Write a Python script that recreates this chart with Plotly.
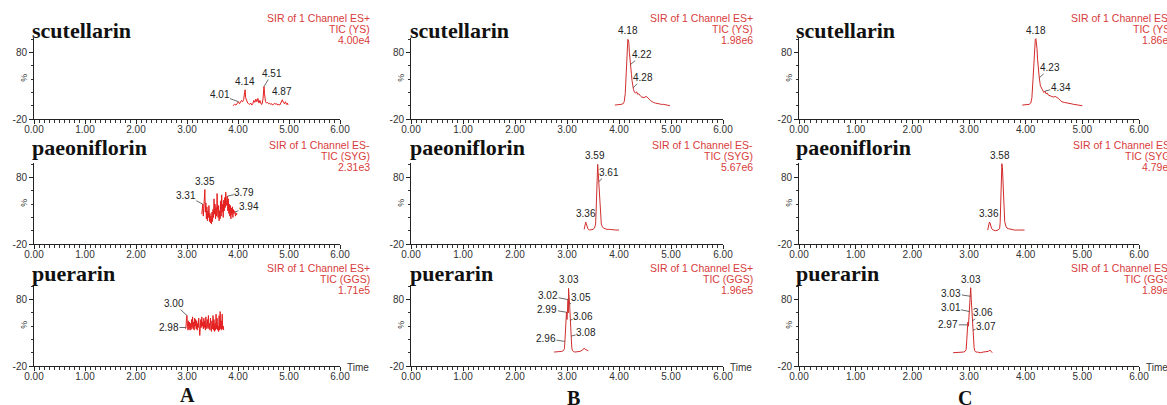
import plotly.graph_objects as go

# ---------------- data ----------------
COLUMNS = ["A", "B", "C"]
COMPOUNDS = ["scutellarin", "paeoniflorin", "puerarin"]
MODES = ["SIR of 1 Channel ES+", "SIR of 1 Channel ES-", "SIR of 1 Channel ES+"]
CHANNELS = ["TIC (YS)", "TIC (SYG)", "TIC (GGS)"]
SCALE_A = ["4.00e4", "2.31e3", "1.71e5"]
SCALE_B = ["1.98e6", "5.67e6", "1.96e5"]
SCALE_C = ["1.86e6", "4.79e6", "1.89e5"]
X_TICKS = [0, 1, 2, 3, 4, 5, 6]
X_TICK_TEXT = ["0.00", "1.00", "2.00", "3.00", "4.00", "5.00", "6.00"]
Y_TICKS = [-20, 80]
Y_TICK_TEXT = ["-20", "80"]

# Column A
A1_TIME = [3.90, 3.93, 3.96, 3.99, 4.01, 4.03, 4.05, 4.07, 4.09, 4.11, 4.13, 4.14, 4.15,
           4.17, 4.19, 4.21, 4.23, 4.25, 4.27, 4.29, 4.31, 4.33, 4.35, 4.37, 4.39, 4.41,
           4.43, 4.45, 4.47, 4.49, 4.51, 4.52, 4.54, 4.56, 4.58, 4.60, 4.62, 4.64, 4.66,
           4.68, 4.70, 4.72, 4.74, 4.76, 4.78, 4.80, 4.82, 4.84, 4.86, 4.87, 4.89, 4.91,
           4.93, 4.95, 4.97, 4.98]
A1_INT = [0, 2, 1, 4, 6, 3, 5, 8, 6, 9, 20, 24, 12,
          6, 4, 3, 2, 4, 1, 3, 8, 5, 10, 6, 11, 4,
          8, 3, 2, 10, 29, 18, 6, 4, 5, 3, 4, 2, 3,
          1, 2, 4, 2, 3, 1, 2, 1, 4, 8, 9, 5, 3,
          6, 2, 4, 1]

A2_TIME = [3.29, 3.30, 3.31, 3.32, 3.33, 3.34, 3.35, 3.36, 3.37, 3.38,
           3.39, 3.40, 3.41, 3.42, 3.43, 3.44, 3.45, 3.46, 3.47, 3.48,
           3.49, 3.50, 3.51, 3.52, 3.53, 3.54, 3.55, 3.56, 3.57, 3.58,
           3.59, 3.60, 3.61, 3.62, 3.63, 3.64, 3.65, 3.66, 3.67, 3.68,
           3.69, 3.70, 3.71, 3.72, 3.73, 3.74, 3.75, 3.76, 3.77, 3.78,
           3.79, 3.80, 3.81, 3.82, 3.83, 3.84, 3.85, 3.86, 3.87, 3.88,
           3.89, 3.90, 3.91, 3.92, 3.93, 3.94, 3.95, 3.96, 3.97, 3.98]
A2_INT = [25, 30, 40, 22, 35, 55, 62, 28, 42, 18,
          36, 15, 30, 20, 38, 14, 26, 12, 22, 10,
          28, 14, 32, 20, 48, 25, 40, 18, 35, 22,
          56, 30, 20, 38, 15, 30, 18, 45, 22, 54,
          28, 40, 20, 46, 30, 50, 35, 58, 38, 46,
          52, 30, 48, 26, 40, 22, 38, 18, 34, 24,
          36, 20, 32, 26, 30, 28, 22, 27, 24, 26]

A3_TIME = [2.97, 2.98, 2.99, 3.00, 3.01, 3.02, 3.03, 3.04, 3.05, 3.06,
           3.07, 3.08, 3.09, 3.10, 3.11, 3.12, 3.13, 3.14, 3.15, 3.16,
           3.17, 3.18, 3.19, 3.20, 3.21, 3.22, 3.23, 3.24, 3.25, 3.26,
           3.27, 3.28, 3.29, 3.30, 3.31, 3.32, 3.33, 3.34, 3.35, 3.36,
           3.37, 3.38, 3.39, 3.40, 3.41, 3.42, 3.43, 3.44, 3.45, 3.46,
           3.47, 3.48, 3.49, 3.50, 3.51, 3.52, 3.53, 3.54, 3.55, 3.56,
           3.57, 3.58, 3.59, 3.60, 3.61, 3.62, 3.63, 3.64, 3.65, 3.66,
           3.67, 3.68, 3.69, 3.70, 3.71, 3.72]
A3_INT = [36, 38, 52, 56, 40, 34, 48, 36, 46, 34,
          44, 35, 50, 38, 54, 36, 46, 34, 52, 40,
          50, 36, 48, 34, 44, 38, 52, 34, 26, 36,
          50, 38, 54, 40, 46, 36, 52, 38, 48, 34,
          54, 42, 36, 50, 38, 56, 36, 44, 34, 52,
          40, 32, 48, 36, 56, 34, 50, 32, 44, 34,
          58, 36, 52, 34, 40, 32, 56, 34, 62, 36,
          48, 34, 58, 36, 40, 34]

# Column B
B1_TIME = [3.92, 3.96, 4.00, 4.04, 4.08, 4.10, 4.12, 4.14, 4.16, 4.17, 4.18, 4.19, 4.20,
           4.21, 4.22, 4.23, 4.24, 4.25, 4.26, 4.27, 4.28, 4.30, 4.32, 4.34, 4.36, 4.38,
           4.40, 4.42, 4.44, 4.46, 4.48, 4.50, 4.52, 4.54, 4.56, 4.58, 4.60, 4.63, 4.66,
           4.70, 4.74, 4.78, 4.82, 4.86, 4.90, 4.94, 4.98]
B1_INT = [1, 1, 2, 2, 3, 6, 18, 50, 92, 100, 99, 94, 80,
          68, 62, 56, 47, 38, 31, 27, 24, 20, 19, 21, 17, 18,
          15, 14, 13, 12, 12, 13, 14, 13, 12, 10, 8, 6, 5,
          4, 3, 3, 2, 2, 1, 1, 0]

B2_TIME = [3.33, 3.34, 3.35, 3.36, 3.37, 3.38, 3.40, 3.43, 3.46, 3.50, 3.53, 3.55, 3.56,
           3.57, 3.58, 3.59, 3.60, 3.61, 3.62, 3.63, 3.64, 3.66, 3.68, 3.70, 3.73, 3.77,
           3.82, 3.88, 3.94, 4.00]
B2_INT = [2, 6, 11, 13, 11, 7, 3, 1, 1, 2, 4, 10, 30,
          70, 96, 100, 88, 74, 60, 40, 24, 10, 6, 4, 3, 2,
          2, 1, 1, 1]

B3_TIME = [2.75, 2.80, 2.85, 2.90, 2.93, 2.95, 2.96, 2.97, 2.98, 2.99, 3.00, 3.01, 3.02,
           3.025, 3.03, 3.035, 3.04, 3.05, 3.06, 3.07, 3.08, 3.09, 3.10, 3.12, 3.15, 3.20,
           3.25, 3.30, 3.33, 3.35, 3.38, 3.41]
B3_INT = [1, 1, 2, 2, 3, 6, 17, 40, 30, 61, 50, 75, 80,
          60, 97, 70, 85, 73, 49, 35, 25, 10, 4, 2, 1, 1,
          2, 4, 7, 5, 4, 3]

# Column C
C1_TIME = [3.94, 3.98, 4.02, 4.06, 4.09, 4.11, 4.13, 4.15, 4.17, 4.18, 4.19, 4.20, 4.21,
           4.22, 4.23, 4.24, 4.26, 4.28, 4.30, 4.32, 4.34, 4.36, 4.38, 4.40, 4.43, 4.46,
           4.49, 4.52, 4.55, 4.58, 4.61, 4.64, 4.68, 4.72, 4.76, 4.80, 4.85, 4.90, 4.95, 5.00]
C1_INT = [1, 1, 2, 2, 4, 12, 40, 85, 100, 101, 96, 86, 70,
          58, 50, 42, 30, 26, 22, 20, 22, 18, 19, 16, 15, 14,
          13, 14, 13, 11, 8, 6, 5, 4, 3, 3, 2, 1, 1, 0]

C2_TIME = [3.33, 3.34, 3.35, 3.36, 3.37, 3.38, 3.40, 3.43, 3.47, 3.51, 3.54, 3.55, 3.56,
           3.57, 3.58, 3.59, 3.60, 3.61, 3.62, 3.63, 3.65, 3.67, 3.70, 3.74, 3.80, 3.86,
           3.92, 3.98]
C2_INT = [1, 5, 10, 13, 12, 8, 3, 1, 0, 1, 3, 12, 45,
          85, 101, 95, 75, 50, 28, 14, 7, 4, 3, 2, 1, 1,
          1, 1]

C3_TIME = [2.72, 2.76, 2.80, 2.85, 2.90, 2.93, 2.95, 2.96, 2.97, 2.975, 2.98, 2.99, 3.00,
           3.005, 3.01, 3.015, 3.02, 3.025, 3.03, 3.04, 3.05, 3.06, 3.07, 3.08, 3.09, 3.10,
           3.12, 3.15, 3.20, 3.25, 3.30, 3.34, 3.37, 3.39, 3.41]
C3_INT = [0, 0, 1, 0, 1, 2, 5, 18, 42, 30, 46, 40, 55,
          48, 62, 58, 75, 85, 98, 80, 62, 48, 34, 18, 8, 3,
          1, 1, 0, 1, 2, 2, 4, 2, 0]

# Peak labels: text shown, retention time the label points at
A1_PEAK_TEXT = ["4.01", "4.14", "4.51", "4.87"]
A1_PEAK_TIME = [4.01, 4.14, 4.51, 4.87]
A2_PEAK_TEXT = ["3.31", "3.35", "3.79", "3.94"]
A2_PEAK_TIME = [3.31, 3.35, 3.79, 3.94]
A3_PEAK_TEXT = ["3.00", "2.98"]
A3_PEAK_TIME = [3.00, 2.98]
B1_PEAK_TEXT = ["4.18", "4.22", "4.28"]
B1_PEAK_TIME = [4.17, 4.22, 4.27]
B2_PEAK_TEXT = ["3.59", "3.61", "3.36"]
B2_PEAK_TIME = [3.59, 3.61, 3.36]
B3_PEAK_TEXT = ["3.03", "3.02", "3.05", "2.99", "3.06", "2.96", "3.08"]
B3_PEAK_TIME = [3.03, 3.02, 3.05, 2.99, 3.06, 2.96, 3.08]
C1_PEAK_TEXT = ["4.18", "4.23", "4.34"]
C1_PEAK_TIME = [4.18, 4.24, 4.34]
C2_PEAK_TEXT = ["3.58", "3.36"]
C2_PEAK_TIME = [3.58, 3.36]
C3_PEAK_TEXT = ["3.03", "3.03", "3.01", "3.06", "2.97", "3.07"]
C3_PEAK_TIME = [3.03, 3.025, 3.01, 3.06, 2.97, 3.07]

PANELS = {
    ("A", 0): (A1_TIME, A1_INT, A1_PEAK_TEXT, A1_PEAK_TIME),
    ("A", 1): (A2_TIME, A2_INT, A2_PEAK_TEXT, A2_PEAK_TIME),
    ("A", 2): (A3_TIME, A3_INT, A3_PEAK_TEXT, A3_PEAK_TIME),
    ("B", 0): (B1_TIME, B1_INT, B1_PEAK_TEXT, B1_PEAK_TIME),
    ("B", 1): (B2_TIME, B2_INT, B2_PEAK_TEXT, B2_PEAK_TIME),
    ("B", 2): (B3_TIME, B3_INT, B3_PEAK_TEXT, B3_PEAK_TIME),
    ("C", 0): (C1_TIME, C1_INT, C1_PEAK_TEXT, C1_PEAK_TIME),
    ("C", 1): (C2_TIME, C2_INT, C2_PEAK_TEXT, C2_PEAK_TIME),
    ("C", 2): (C3_TIME, C3_INT, C3_PEAK_TEXT, C3_PEAK_TIME),
}
SCALES = {"A": SCALE_A, "B": SCALE_B, "C": SCALE_C}

# ---------------- layout / style ----------------
W, H = 1167, 405
SANS = "Liberation Sans, Arial, sans-serif"
SERIF = "Liberation Serif, Times New Roman, serif"
COL_GEOM = {  # pixel x of t=0, t=6, title left, red-text right edge, letter centre, letter y
    "A": dict(x0=34, x1=340, title=30, red=372, letter=187, letter_y=395),
    "B": dict(x0=411, x1=723, title=408, red=755, letter=573, letter_y=398),
    "C": dict(x0=799, x1=1139, title=794, red=1176, letter=965, letter_y=398),
}
ROW_GEOM = [  # pixel y of the x-axis line, y-axis top, title centre, red text first line
    dict(bot=119, top=38, title=30, red=18),
    dict(bot=244, top=163, title=148, red=145),
    dict(bot=366, top=285, title=273, red=268),
]
LINE_COLOR = {"A": "#e41e1e", "B": "#cf3030", "C": "#d22a2a"}
RED_TEXT = "#d83c3c"
# (ax, ay, with_leader) per label
LABEL_OFFSETS = {
    ("A", 0): [(-19, -7, True), (0, 0, False), (8, -13, True), (0, 0, False)],
    ("A", 1): [(-17, -9, True), (0, 0, False), (17, -4, True), (14, -6, True)],
    ("A", 2): [(-13, -12, True), (-17, 0, True)],
    ("B", 0): [(0, 0, False), (12, -10, True), (10, -10, True)],
    ("B", 1): [(-3, 0, False), (10, -9, True), (0, 0, False)],
    ("B", 2): [(0, 0, False), (-20, -4, True), (11, -7, True), (-19, -3, True),
               (13, -4, True), (-19, -3, True), (15, -4, True)],
    ("C", 0): [(0, 0, False), (11, -10, True), (16, -4, True)],
    ("C", 1): [(-2, 0, False), (0, 0, False)],
    ("C", 2): [(0, 0, False), (-19, -3, True), (-19, -4, True), (11, -8, True),
               (-19, 0, True), (13, -4, True)],
}
Y_RANGE = [-20, 102]

fig = go.Figure()
annotations = []
axes = {}

for ci, col in enumerate(COLUMNS):
    cg = COL_GEOM[col]
    for ri in range(3):
        rg = ROW_GEOM[ri]
        k = ci * 3 + ri + 1
        s = "" if k == 1 else str(k)
        times, ints, ptext, ptime = PANELS[(col, ri)]

        fig.add_trace(go.Scatter(
            x=times, y=ints, mode="lines",
            line=dict(color=LINE_COLOR[col], width=1),
            xaxis="x" + s, yaxis="y" + s, hoverinfo="skip", showlegend=False,
        ))

        axes["xaxis" + s] = dict(
            domain=[cg["x0"] / W, cg["x1"] / W], anchor="y" + s, range=[0, 6],
            showline=True, linecolor="#222", linewidth=1, mirror=False,
            tickmode="array", tickvals=X_TICKS, ticktext=X_TICK_TEXT,
            ticks="outside", ticklen=4, tickwidth=1, tickcolor="#222",
            ticklabelstandoff=-3, automargin=False,
            minor=dict(dtick=0.1, tick0=0, ticks="outside", ticklen=3,
                       tickwidth=1, tickcolor="#333"),
            tickfont=dict(family=SANS, size=10, color="#333"),
            showgrid=False, zeroline=False, fixedrange=True,
        )
        axes["yaxis" + s] = dict(
            domain=[1 - rg["bot"] / H, 1 - rg["top"] / H], anchor="x" + s,
            range=Y_RANGE, showline=True, linecolor="#222", linewidth=1,
            tickmode="array", tickvals=Y_TICKS, ticktext=Y_TICK_TEXT,
            ticks="outside", ticklen=4, tickwidth=1, tickcolor="#222",
            automargin=False,
            minor=dict(dtick=20, tick0=0, ticks="outside", ticklen=2.5,
                       tickwidth=1, tickcolor="#333"),
            tickfont=dict(family=SANS, size=10, color="#333"),
            showgrid=False, zeroline=False, fixedrange=True,
        )

        # compound title
        annotations.append(dict(
            text="<b>%s</b>" % COMPOUNDS[ri], xref="paper", yref="paper",
            x=cg["title"] / W, y=1 - rg["title"] / H, xanchor="left", yanchor="middle",
            showarrow=False, font=dict(family=SERIF, size=22, color="#111"),
        ))
        # red header text
        for li, line in enumerate([MODES[ri], CHANNELS[ri], SCALES[col][ri]]):
            annotations.append(dict(
                text=line, xref="paper", yref="paper",
                x=cg["red"] / W, y=1 - (rg["red"] + 11 * li) / H,
                xanchor="right", yanchor="middle", showarrow=False,
                font=dict(family=SANS, size=10.5, color=RED_TEXT),
            ))
        # "%" axis label
        annotations.append(dict(
            text="%", xref="paper", yref="y" + s, x=(cg["x0"] - 10) / W, y=42,
            xanchor="center", yanchor="middle", showarrow=False, textangle=-90,
            font=dict(family=SANS, size=9, color="#333"),
        ))
        # peak labels
        for (txt, t), (ax, ay, lead) in zip(zip(ptext, ptime), LABEL_OFFSETS[(col, ri)]):
            idx = min(range(len(times)), key=lambda i: abs(times[i] - t))
            v = ints[idx]
            if lead:
                annotations.append(dict(
                    text=txt, x=times[idx], y=v, xref="x" + s, yref="y" + s,
                    showarrow=True, arrowhead=0, arrowwidth=0.8, arrowcolor="#444",
                    ax=ax, ay=ay, standoff=0, borderpad=0,
                    font=dict(family=SANS, size=10, color="#222"),
                ))
            else:
                annotations.append(dict(
                    text=txt, x=times[idx], y=v, xref="x" + s, yref="y" + s,
                    showarrow=False, xanchor="center", yanchor="bottom",
                    xshift=ax, yshift=1,
                    font=dict(family=SANS, size=10, color="#222"),
                ))
        if ri == 2:
            annotations.append(dict(
                text="Time", xref="paper", yref="paper",
                x=(cg["x1"] + 5) / W, y=1 - (rg["bot"] + 1) / H,
                xanchor="left", yanchor="middle", showarrow=False,
                font=dict(family=SANS, size=10, color="#333"),
            ))
    annotations.append(dict(
        text="<b>%s</b>" % col, xref="paper", yref="paper",
        x=cg["letter"] / W, y=1 - cg["letter_y"] / H, xanchor="center", yanchor="middle",
        showarrow=False, font=dict(family=SERIF, size=20, color="#111"),
    ))

fig.update_layout(
    width=W, height=H, margin=dict(l=0, r=0, t=0, b=0, autoexpand=False),
    paper_bgcolor="white", plot_bgcolor="white",
    annotations=annotations, showlegend=False, **axes,
)
fig.write_html(
    "out.html",
    config={"displayModeBar": False},
    post_script="document.body.style.margin='0';document.body.style.overflow='hidden';",
)
